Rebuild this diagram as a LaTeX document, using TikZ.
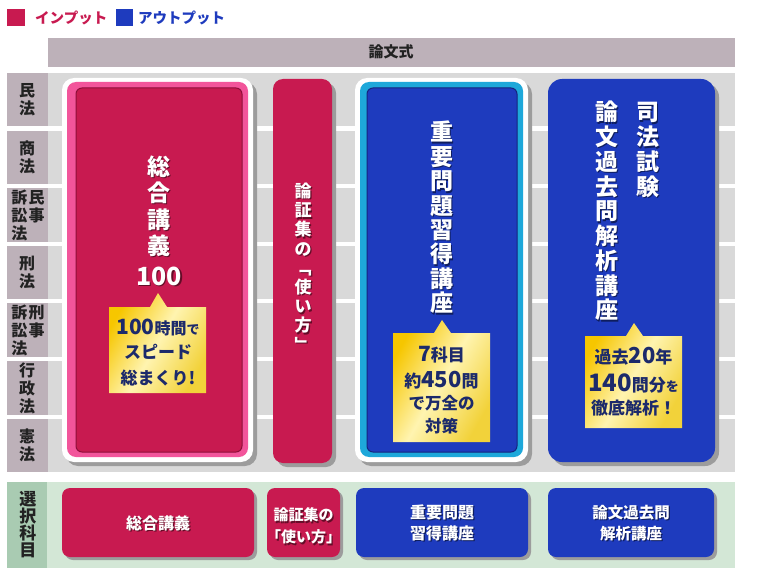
\documentclass[tikz,border=0pt]{standalone}
\usepackage{fontspec}
\setmainfont{Noto Sans CJK JP}
\definecolor{crim}{HTML}{C81A50}
\definecolor{crimdk}{HTML}{8E0F3A}
\definecolor{blu}{HTML}{1E3BBE}
\definecolor{bludk}{HTML}{15257E}
\definecolor{pinkfr}{HTML}{F2559B}
\definecolor{cyanfr}{HTML}{1EA8DA}
\definecolor{mauve}{HTML}{BDB1B9}
\definecolor{rowgray}{HTML}{D9D9D9}
\definecolor{greenbg}{HTML}{D3E7D6}
\definecolor{greenlab}{HTML}{A9CBB2}
\definecolor{navy}{HTML}{1C2A6B}
\definecolor{goldA}{HTML}{F6C600}
\definecolor{goldB}{HTML}{FFF4B0}
\definecolor{goldC}{HTML}{F2D23A}
\definecolor{shad}{HTML}{9C9C9C}
\definecolor{labtxt}{HTML}{222222}
\newcommand\shtext[4]{%
  \node[txtshadow, font=#3, xshift=1.4pt, yshift=-1.4pt] (#1s) at (#2) {#4};
  \node[txtwhite, font=#3] (#1) at (#2) {#4};}
\tikzset{
  txtwhite/.style={text=white, inner sep=0pt, align=center},
  txtshadow/.style={text=black, opacity=0.5, inner sep=0pt, align=center},
  lab/.style={text=labtxt, inner sep=0pt, align=center, font=\bfseries\fontsize{16}{18}\selectfont},
  callt/.style={text=navy, inner sep=0pt, align=center},
  goldfill/.style={left color=goldA, right color=goldC, middle color=goldB, shading angle=60},
  shadowbox/.style={fill=shad},
}
\begin{document}
\begin{tikzpicture}[x=1pt,y=-1pt]
\useasboundingbox (0,0) rectangle (760,580);
\fill[white] (0,0) rectangle (760,580);
% legend
\fill[crim] (7,9) rectangle (25,26);
\node[anchor=west, inner sep=0pt, text=crim, font=\bfseries\fontsize{14.5}{16}\selectfont] (legin) at (35,17.5) {インプット};
\fill[blu] (116,9) rectangle (133,26);
\node[anchor=west, inner sep=0pt, text=blu, font=\bfseries\fontsize{14.5}{16}\selectfont] (legout) at (138,17.5) {アウトプット};
% header
\fill[mauve] (48,38) rectangle (735,67);
\node[inner sep=0pt, text=labtxt, font=\bfseries\fontsize{15}{17}\selectfont] (hdr) at (391,52) {論文式};
% rows
\foreach \ys/\ye in {73/126.5,131/184,188/242,246/299,303/357,361/415,419/472}{
  \fill[mauve] (7,\ys) rectangle (48,\ye);
  \fill[rowgray] (48,\ys) rectangle (735,\ye);
}
\node[lab] (r1) at (27,100) {民\\法};
\node[lab] (r2) at (27,157.5) {商\\法};
\node[lab, anchor=north] (r3a) at (36.5,190) {民\\事};
\node[lab, anchor=north] (r3b) at (19.5,190) {訴\\訟\\法};
\node[lab] (r4) at (27,272.5) {刑\\法};
\node[lab, anchor=north] (r5a) at (36.5,305) {刑\\事};
\node[lab, anchor=north] (r5b) at (19.5,305) {訴\\訟\\法};
\node[lab] (r6) at (27,388) {行\\政\\法};
\node[lab] (r7) at (27,445.5) {憲\\法};
% box 1
\fill[shadowbox, rounded corners=12] (66,82) rectangle (257,466);
\fill[white, rounded corners=12] (62,78) rectangle (253,462);
\fill[pinkfr, rounded corners=9] (67,82) rectangle (248,457);
\filldraw[fill=crim, draw=crimdk, line width=1pt, rounded corners=6] (76,88) rectangle (242,452);
\shtext{t1}{159,206}{\bfseries\fontsize{23}{26.5}\selectfont}{総\\合\\講\\義}
\shtext{t1n}{159,276}{\bfseries\fontsize{25}{28}\selectfont}{100}
\shade[goldfill] (109,307) -- (150,307) -- (158,293) -- (167,307) -- (206,307) -- (206,393) -- (109,393) -- cycle;
\node[callt] (c1a) at (158,327) {\bfseries{\fontsize{21}{24}\selectfont 100}{\fontsize{16}{24}\selectfont 時間}{\fontsize{13}{24}\selectfont で}};
\node[callt, font=\bfseries\fontsize{17}{20}\selectfont] (c1b) at (158,352) {スピード};
\node[callt, font=\bfseries\fontsize{17}{20}\selectfont] (c1c) at (158,378) {総まくり!};
% box 2
\fill[shadowbox, rounded corners=10] (277,83) rectangle (336,467);
\fill[crim, rounded corners=10] (273,79) rectangle (332,463);
\shtext{t2}{303,267}{\bfseries\fontsize{17}{19.2}\selectfont}{論\\証\\集\\の\\﹁\\使\\い\\方\\﹂}
% box 3
\fill[shadowbox, rounded corners=12] (359,82) rectangle (532,466);
\fill[white, rounded corners=12] (355,78) rectangle (528,462);
\fill[cyanfr, rounded corners=9] (360,82) rectangle (523,457);
\filldraw[fill=blu, draw=bludk, line width=1pt, rounded corners=6] (367,88) rectangle (517,452);
\shtext{t3}{442,217.5}{\bfseries\fontsize{23}{24.4}\selectfont}{重\\要\\問\\題\\習\\得\\講\\座}
\shade[goldfill] (393,333) -- (434,333) -- (442,320) -- (451,333) -- (490,333) -- (490,442) -- (393,442) -- cycle;
\node[callt] (c3a) at (441.5,355) {\bfseries{\fontsize{21}{24}\selectfont 7}{\fontsize{17}{24}\selectfont 科目}};
\node[callt] (c3b) at (441.5,380) {\bfseries{\fontsize{17}{24}\selectfont 約}{\fontsize{22}{24}\selectfont 450}{\fontsize{17}{24}\selectfont 問}};
\node[callt, font=\bfseries\fontsize{16.5}{20}\selectfont] (c3c) at (441.5,403) {で万全の};
\node[callt, font=\bfseries\fontsize{16.5}{20}\selectfont] (c3d) at (441.5,426) {対策};
% box 4
\fill[shadowbox, rounded corners=14] (552,83) rectangle (719,466);
\fill[blu, rounded corners=14] (548,79) rectangle (715,462);
\shtext{t4a}{648,150}{\bfseries\fontsize{23}{24.7}\selectfont}{司\\法\\試\\験}
\shtext{t4b}{607,211}{\bfseries\fontsize{23}{24.75}\selectfont}{論\\文\\過\\去\\問\\解\\析\\講\\座}
\shade[goldfill] (585,336) -- (626,336) -- (634,323) -- (643,336) -- (682,336) -- (682,428) -- (585,428) -- cycle;
\node[callt] (c4a) at (633.5,356) {\bfseries{\fontsize{17}{24}\selectfont 過去}{\fontsize{22}{24}\selectfont 20}{\fontsize{17}{24}\selectfont 年}};
\node[callt] (c4b) at (633.5,383) {\bfseries{\fontsize{24}{26}\selectfont 140}{\fontsize{17}{24}\selectfont 問分}{\fontsize{13}{24}\selectfont を}};
\node[callt, font=\bfseries\fontsize{17}{20}\selectfont] (c4c) at (633.5,408) {徹底解析！};
% bottom section
\fill[greenbg] (7,482) rectangle (735,568);
\fill[greenlab] (7,482) rectangle (47,568);
\node[lab, font=\bfseries\fontsize{17}{17}\selectfont] (sel) at (28,525) {選\\択\\科\\目};
\fill[shadowbox, rounded corners=8] (65,491) rectangle (257,560);
\fill[crim, rounded corners=8] (62,488) rectangle (254,557);
\shtext{b1}{158,523}{\bfseries\fontsize{16}{20}\selectfont}{総合講義}
\fill[shadowbox, rounded corners=8] (270,491) rectangle (343,560);
\fill[crim, rounded corners=8] (267,488) rectangle (340,557);
\shtext{b2}{303.5,526}{\bfseries\fontsize{15}{22}\selectfont}{論証集の\\「使い方」}
\fill[shadowbox, rounded corners=8] (359,491) rectangle (531,560);
\fill[blu, rounded corners=8] (356,488) rectangle (528,557);
\shtext{b3}{442,523}{\bfseries\fontsize{16}{21}\selectfont}{重要問題\\習得講座}
\fill[shadowbox, rounded corners=8] (551,491) rectangle (717,560);
\fill[blu, rounded corners=8] (548,488) rectangle (714,557);
\shtext{b4}{631,523}{\bfseries\fontsize{15.5}{21}\selectfont}{論文過去問\\解析講座}
\end{tikzpicture}
\end{document}
